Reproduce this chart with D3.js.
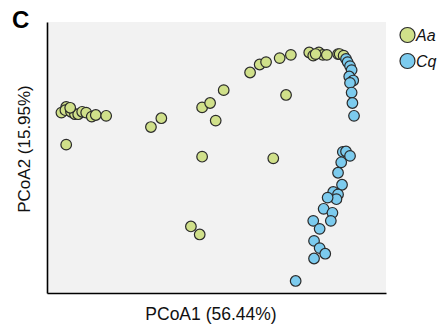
<!DOCTYPE html>
<html><head><meta charset="utf-8">
<script src="https://cdn.jsdelivr.net/npm/d3@7"></script>
<style>body{margin:0;background:#fff}svg{display:block}</style>
</head><body>
<svg id="c" width="446" height="325"></svg>
<script>
const groups = ["Aa", "Cq"];
const colors = ["#d0e08a", "#7ccbee"];
const xLabel = "PCoA1 (56.44%)";
const yLabel = "PCoA2 (15.95%)";
const panelLabel = "C";

const aaX = [-0.194,-0.188,-0.189,-0.182,-0.177,-0.173,-0.168,-0.163,-0.156,-0.151,-0.138,-0.188,-0.082,-0.069,-0.018,-0.008,-0.001,0.009,0.042,0.054,0.062,0.079,0.093,0.087,-0.018,0.071,0.116,0.121,0.128,0.133,0.138,0.152,0.154,0.159,-0.032,-0.021,-0.183,0.124];
const aaY = [0.056,0.063,0.059,0.057,0.054,0.054,0.057,0.056,0.051,0.053,0.052,0.016,0.038,0.049,0.0625,0.068,0.046,0.084,0.106,0.116,0.119,0.124,0.128,0.078,0.001,-0.001,0.131,0.127,0.131,0.128,0.128,0.129,0.129,0.127,-0.086,-0.096,0.062,0.129];
const cqX = [0.162,0.164,0.167,0.169,0.166,0.171,0.167,0.169,0.170,0.172,0.158,0.162,0.167,0.156,0.152,0.157,0.146,0.152,0.150,0.139,0.134,0.145,0.143,0.121,0.129,0.122,0.129,0.136,0.122,0.099];
const cqY = [0.123,0.119,0.114,0.109,0.101,0.096,0.093,0.081,0.068,0.052,0.007,0.0075,0.002,-0.006,-0.019,-0.034,-0.043,-0.046,-0.052,-0.050,-0.064,-0.069,-0.079,-0.079,-0.089,-0.104,-0.113,-0.120,-0.126,-0.154];

const svg = d3.select("#c");
const L = 47, R = 386, T = 22, B = 293;
const x = d3.scaleLinear().domain([-0.212, 0.212]).range([L, R]);
const y = d3.scaleLinear().domain([-0.169, 0.169]).range([B, T]);
const font = "Arial, 'Liberation Sans', sans-serif";

svg.append("rect").attr("x", L).attr("y", T).attr("width", R - L).attr("height", B - T).attr("fill", "#f2f2f2");

const series = [
  {xs: aaX, ys: aaY, c: colors[0]},
  {xs: cqX, ys: cqY, c: colors[1]}
];
series.forEach(s => {
  svg.append("g").selectAll("circle").data(s.xs.map((v, i) => [v, s.ys[i]])).join("circle")
    .attr("cx", d => x(d[0])).attr("cy", d => y(d[1])).attr("r", 5.3)
    .attr("fill", s.c).attr("stroke", "#2a2a2a").attr("stroke-width", 1.2);
});

// axes (lines only, no ticks)
const xAxis = d3.axisBottom(x).tickValues([]).tickSizeOuter(0);
const yAxis = d3.axisLeft(y).tickValues([]).tickSizeOuter(0);
svg.append("g").attr("transform", `translate(0,${B})`).call(xAxis)
  .select(".domain").attr("stroke", "#000").attr("stroke-width", 1.6);
svg.append("g").attr("transform", `translate(${L},0)`).call(yAxis)
  .select(".domain").attr("stroke", "#000").attr("stroke-width", 1.6);

svg.append("text").attr("x", 211).attr("y", 320).attr("text-anchor", "middle")
  .attr("font-family", font).attr("font-size", 17.5).attr("fill", "#111").text(xLabel);
svg.append("text").attr("transform", `translate(30,149) rotate(-90)`).attr("text-anchor", "middle")
  .attr("font-family", font).attr("font-size", 17).attr("fill", "#111").text(yLabel);
svg.append("text").attr("x", 12).attr("y", 28).attr("font-family", font).attr("font-weight", "bold")
  .attr("font-size", 24).attr("fill", "#000").text(panelLabel);

const lg = svg.append("g");
groups.forEach((g, i) => {
  const cy = 35 + i * 26;
  lg.append("circle").attr("cx", 407.5).attr("cy", cy).attr("r", 7.5)
    .attr("fill", colors[i]).attr("stroke", "#2a2a2a").attr("stroke-width", 1.2);
  lg.append("text").attr("x", 416).attr("y", cy + 5.5).attr("font-family", font)
    .attr("font-style", "italic").attr("font-size", 16).attr("fill", "#111").text(g);
});
</script>
</body></html>
